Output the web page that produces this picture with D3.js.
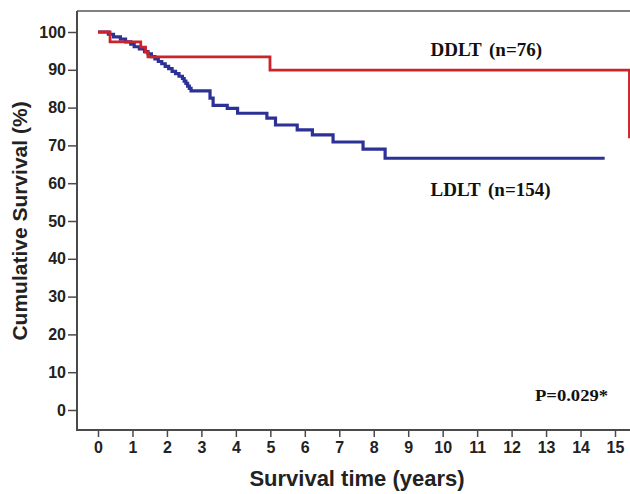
<!DOCTYPE html>
<html>
<head>
<meta charset="utf-8">
<script src="https://cdn.jsdelivr.net/npm/d3@7"></script>
<style>
  html, body { margin: 0; padding: 0; background: #fff; }
  svg { display: block; }
</style>
</head>
<body>
<svg id="chart" width="630" height="494"></svg>
<script>
// ---- data ----
const xTicks = [0,1,2,3,4,5,6,7,8,9,10,11,12,13,14,15];
const yTicks = [0,10,20,30,40,50,60,70,80,90,100];

// LDLT (n=154): [time in years, cumulative survival %]
const ldlt = [
  [0,100],[0.3,99.4],[0.45,98.7],[0.65,98.1],[0.8,97.4],[0.95,96.8],[1.05,96.1],
  [1.2,95.5],[1.35,94.8],[1.45,94.2],[1.55,93.5],[1.65,92.9],[1.75,92.2],[1.85,91.6],
  [1.95,90.9],[2.05,90.3],[2.15,89.6],[2.25,89.0],[2.35,88.3],[2.45,87.7],[2.5,87.0],
  [2.55,86.4],[2.6,85.7],[2.65,85.1],[2.7,84.4],[3.25,82.5],[3.34,80.6],[3.75,79.8],
  [4.05,78.5],[4.9,77.2],[5.15,75.4],[5.78,74.1],[6.22,72.8],[6.82,70.9],[7.69,69.0],
  [8.33,66.6],[14.7,66.6]
];
// DDLT (n=76)
const ddlt = [
  [0,100],[0.35,97.4],[1.24,96.0],[1.38,94.7],[1.45,93.4],[4.99,89.9],[15.42,89.9],[15.42,71.9]
];

const labels = [
  {text: "DDLT (n=76)", t: 9.65, v: 93.6},
  {text: "LDLT (n=154)", t: 9.65, v: 56.6}
];
const pText = "P=0.029*";

// ---- layout ----
const svg = d3.select("#chart");
const x = d3.scaleLinear().domain([0, 15]).range([98, 615]);
const y = d3.scaleLinear().domain([0, 100]).range([410, 32]);
const frameLeft = 77, frameTop = 11, frameBottom = 430, frameRight = 632;
const axisColor = "#4a4a4a";

// frame
svg.append("line").attr("x1", frameLeft).attr("x2", frameRight)
  .attr("y1", frameTop).attr("y2", frameTop)
  .attr("stroke", "#808080").attr("stroke-width", 2);
svg.append("line").attr("x1", frameLeft).attr("x2", frameLeft)
  .attr("y1", frameTop).attr("y2", frameBottom)
  .attr("stroke", axisColor).attr("stroke-width", 2);
svg.append("line").attr("x1", frameLeft - 1).attr("x2", frameRight)
  .attr("y1", frameBottom).attr("y2", frameBottom)
  .attr("stroke", axisColor).attr("stroke-width", 2);

// y axis
const yAxis = svg.append("g").attr("transform", `translate(${frameLeft - 1},0)`)
  .call(d3.axisLeft(y).tickValues(yTicks).tickSize(8).tickPadding(2));
yAxis.select(".domain").remove();
yAxis.selectAll(".tick line").attr("stroke", axisColor).attr("stroke-width", 1.5);
yAxis.selectAll(".tick text")
  .attr("fill", "#222").style("font-family", "'Liberation Sans', Arial, sans-serif")
  .style("font-size", "16px").style("font-weight", "bold");

// x axis
const xAxis = svg.append("g").attr("transform", `translate(0,${frameBottom + 1})`)
  .call(d3.axisBottom(x).tickValues(xTicks).tickSize(6).tickPadding(5));
xAxis.select(".domain").remove();
xAxis.selectAll(".tick line").attr("stroke", axisColor).attr("stroke-width", 1.5);
xAxis.selectAll(".tick text")
  .attr("fill", "#222").style("font-family", "'Liberation Sans', Arial, sans-serif")
  .style("font-size", "16px").style("font-weight", "bold");

// axis titles
svg.append("text")
  .attr("transform", "translate(27,221) rotate(-90)")
  .attr("text-anchor", "middle")
  .style("font-family", "'Liberation Sans', Arial, sans-serif")
  .style("font-size", "21px").style("font-weight", "bold").attr("fill", "#222")
  .text("Cumulative Survival (%)");
svg.append("text")
  .attr("x", 357).attr("y", 486)
  .attr("text-anchor", "middle")
  .style("font-family", "'Liberation Sans', Arial, sans-serif")
  .style("font-size", "22px").style("font-weight", "bold").attr("fill", "#222")
  .text("Survival time (years)");

// curves
const line = d3.line().x(d => x(d[0])).y(d => y(d[1])).curve(d3.curveStepAfter);
svg.append("path").datum(ldlt).attr("d", line)
  .attr("fill", "none").attr("stroke", "#2c3196").attr("stroke-width", 3.2);
svg.append("path").datum(ddlt).attr("d", line)
  .attr("fill", "none").attr("stroke", "#cc2229").attr("stroke-width", 2.8);

// labels
svg.selectAll("text.lbl").data(labels).enter().append("text")
  .attr("class", "lbl")
  .attr("x", d => x(d.t)).attr("y", d => y(d.v))
  .style("font-family", "'Liberation Serif', 'Times New Roman', serif")
  .style("font-size", "19px").style("font-weight", "bold").attr("fill", "#111")
  .style("word-spacing", "3px")
  .text(d => d.text);

svg.append("text")
  .attr("x", 535).attr("y", 401)
  .attr("textLength", 73).attr("lengthAdjust", "spacingAndGlyphs")
  .style("font-family", "'Liberation Serif', 'Times New Roman', serif")
  .style("font-size", "16px").style("font-weight", "bold").attr("fill", "#111")
  .text(pText);
</script>
</body>
</html>
